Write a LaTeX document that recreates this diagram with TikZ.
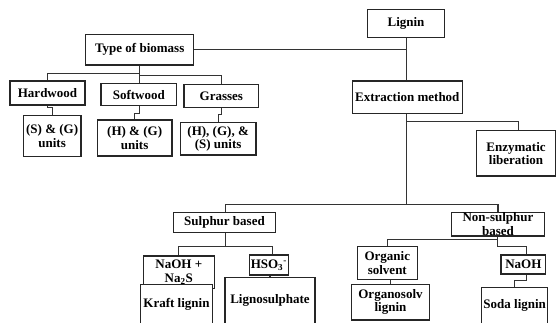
\documentclass[tikz,border=0pt]{standalone}
\usepackage{fontspec}
\setmainfont{Liberation Serif}
\newcommand\mybox[6]{%
  \pgfmathsetlengthmacro\bxw{#4-#2}%
  \pgfmathsetlengthmacro\bxh{#5-#3}%
  \node[box] (#1) at ({(#2+#4)/2},{(#3+#5)/2}) {\parbox[c][\bxh][c]{\bxw}{\centering #6}};}
\begin{document}
\begin{tikzpicture}[x=1pt,y=-1pt,
  box/.style={draw=black!85, fill=white, line width=1.1pt, inner sep=0pt,
    font=\fontsize{13}{13.5}\selectfont\bfseries},
  conn/.style={draw=black!80, line width=1.3pt}]
\useasboundingbox (0,0) rectangle (556,322);
% connectors first (boxes drawn on top)
\coordinate (b1) at (139.3,73.3);
\coordinate (e0) at (406.3,121.7);
\coordinate (e1) at (406.3,204.3);
\coordinate (s1) at (225.7,246.7);
\coordinate (n1) at (497.7,239.3);
\coordinate (n2) at (497.7,246.7);
% boxes
\mybox{lignin}{367.5}{9.5}{444.5}{37.5}{Lignin}
\mybox{biomass}{85.7}{34.3}{193.7}{65}{Type of biomass}
\mybox{hardwood}{10}{81}{85}{105}{Hardwood}
\mybox{softwood}{101}{83.3}{176.7}{105.7}{Softwood}
\mybox{grasses}{184}{84.3}{258.7}{107.3}{Grasses}
\mybox{sg}{23.3}{115.7}{81}{156.7}{(S) \& (G)\\units}
\mybox{hg}{97.3}{120}{172}{156}{(H) \& (G)\\units}
\mybox{hgs}{180.3}{122.3}{256}{155}{(H), (G), \&\\(S) units}
\mybox{extraction}{352.3}{81}{462.3}{113.3}{Extraction method}
\mybox{enzymatic}{476.7}{130.7}{555.4}{176}{Enzymatic\\liberation}
\mybox{sulphur}{173.3}{212.3}{275.7}{232.3}{Sulphur based}
\mybox{nonsulphur}{451.7}{212.3}{544.3}{236}{Non-sulphur\\based}
\mybox{naohs}{143.3}{256}{214.3}{288.3}{NaOH +\\Na\textsubscript{2}S}
\mybox{hso}{249.3}{255}{288.3}{275}{HSO\textsubscript{3}\textsuperscript{-}}
\mybox{kraft}{140.7}{284.3}{212.3}{324}{Kraft lignin}
\mybox{lignosulphate}{225}{277.3}{315}{324}{Lignosulphate}
\mybox{organic}{357.3}{246.7}{417.3}{279.3}{Organic\\solvent}
\mybox{organosolv}{351.7}{284.3}{429.3}{320}{Organosolv\\lignin}
\mybox{naoh}{501}{255}{545.7}{274}{NaOH}
\mybox{soda}{481.7}{287.3}{547.7}{324}{Soda lignin}
% connectors
\draw[conn] (lignin.south -| e1) -- (extraction.north -| e1);
\draw[conn] (biomass.east) -- (biomass.east -| e1);
\draw[conn] (biomass.south -| b1) -- (b1) -| (hardwood.north);
\draw[conn] (b1) -- (softwood.north -| b1);
\draw[conn] (b1) -- ++(0,2.4) -| (grasses.north);
\draw[conn] (hardwood.south) -- ++(0,2.2) -| (sg.north);
\draw[conn] (softwood.south -| b1) -- ++(0,7) -| (hg.north);
\draw[conn] (grasses.south) -- ++(0,6.7) -| (hgs.north);
\draw[conn] (extraction.south -| e1) -- (e1);
\draw[conn] (e0) -| ([xshift=2.6pt]enzymatic.north);
\draw[conn] ([xshift=1.2pt]sulphur.north) |- (e1) -| (nonsulphur.north);
\draw[conn] (sulphur.south -| s1) -- (s1);
\draw[conn] (s1) -| (naohs.north);
\draw[conn] (s1) -| ([xshift=3.5pt]hso.south |- hso.north);
\draw[conn] ([xshift=1.2pt]hso.south) -- ([xshift=1.2pt]hso.south |- lignosulphate.north);
\draw[conn] (nonsulphur.south -| n1) -- (n2);
\draw[conn] (n1) -| (organic.north);
\draw[conn] (n2) -| ([xshift=3.3pt]naoh.north);
\draw[conn] (organic.south -| organosolv.north) -- (organosolv.north);
\draw[conn] ([xshift=3.3pt]naoh.south) -- ++(0,6) -| (soda.north);
\end{tikzpicture}
\end{document}
